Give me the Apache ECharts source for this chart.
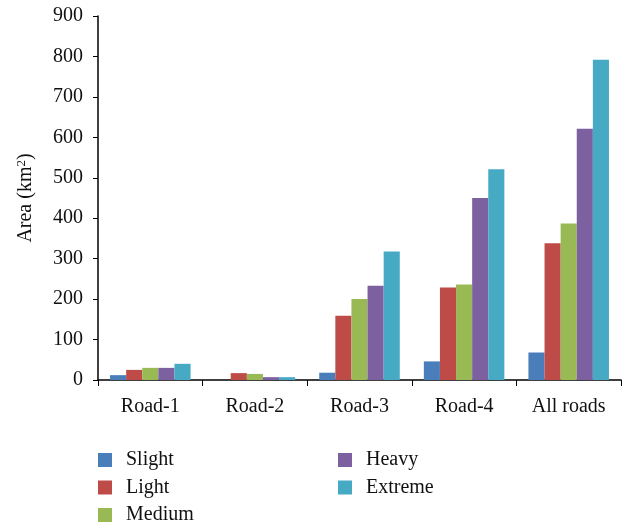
<!DOCTYPE html>
<html><head><meta charset="utf-8">
<script src="https://cdn.jsdelivr.net/npm/echarts@6/dist/echarts.min.js"></script>
<style>html,body{margin:0;padding:0;background:#fff}#c{width:629px;height:527px}</style>
</head><body><div id="c"></div>
<script>
const categories = ['Road-1', 'Road-2', 'Road-3', 'Road-4', 'All roads'];
const seriesNames = ['Slight', 'Light', 'Medium', 'Heavy', 'Extreme'];
const slight = [12, 0, 18, 46, 68];
const light = [25, 17, 159, 229, 338];
const medium = [30, 15, 200, 236, 387];
const heavy = [30, 7, 233, 450, 621];
const extreme = [40, 7, 318, 521, 792];
const colors = ['#4a7ebb', '#be4b48', '#98b954', '#7d60a0', '#46aac5'];
const yTicks = [0, 900, 100];

const values = [slight, light, medium, heavy, extreme];
const font = '"Liberation Serif", "DejaVu Serif", serif';
const legendText = { fontFamily: font, fontSize: 20, color: '#111', lineHeight: 18, padding: [0, 0, 0, 9] };
const chart = echarts.init(document.getElementById('c'));
chart.setOption({
  animation: false,
  textStyle: { fontFamily: font },
  grid: { left: 98, right: 8, top: 16, bottom: 147 },
  legend: [
    { data: seriesNames.slice(0, 3), orient: 'vertical', left: 98, top: 450, height: 120, padding: 0,
      itemWidth: 14, itemHeight: 14, itemGap: 7.5, icon: 'rect', textStyle: legendText },
    { data: seriesNames.slice(3), orient: 'vertical', left: 338, top: 450, height: 120, padding: 0,
      itemWidth: 14, itemHeight: 14, itemGap: 7.5, icon: 'rect', textStyle: legendText }
  ],
  xAxis: {
    type: 'category', data: categories,
    axisLine: { lineStyle: { color: '#000', width: 1.5 } },
    axisTick: { show: true, length: 6, lineStyle: { color: '#000' } },
    axisLabel: { fontFamily: font, fontSize: 20, color: '#111', margin: 17 }
  },
  yAxis: {
    type: 'value', min: yTicks[0], max: yTicks[1], interval: yTicks[2],
    name: '{a|Area (km}{s|2}{a|)}', nameLocation: 'middle', nameGap: 61, nameRotate: 90,
    nameTextStyle: { rich: {
      a: { fontFamily: font, fontSize: 20, color: '#111' },
      s: { fontFamily: font, fontSize: 13, color: '#111', verticalAlign: 'bottom', padding: [0, 0, 9, 0] } } },
    splitLine: { show: false },
    axisLine: { show: true, lineStyle: { color: '#000', width: 1.5 } },
    axisTick: { show: true, length: 5, lineStyle: { color: '#000' } },
    axisLabel: { fontFamily: font, fontSize: 20, color: '#111', margin: 15 }
  },
  series: seriesNames.map((n, i) => ({
    name: n, type: 'bar', data: values[i], barGap: '0%', barCategoryGap: '23%',
    itemStyle: { color: colors[i] }
  }))
});
</script></body></html>
